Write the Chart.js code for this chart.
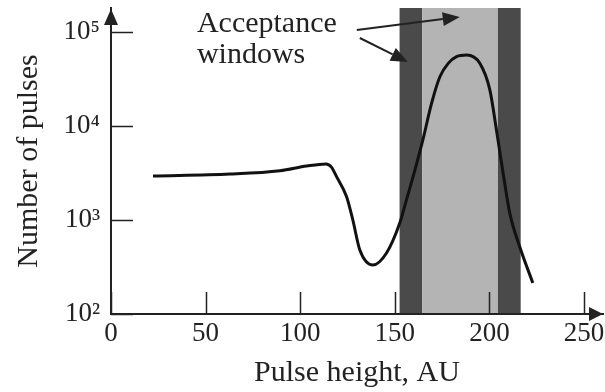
<!DOCTYPE html>
<html><head><meta charset="utf-8">
<script src="https://cdn.jsdelivr.net/npm/chart.js@4"></script>
<style>html,body{margin:0;padding:0;background:#fff}canvas{display:block}</style>
</head><body>
<canvas id="c" width="605" height="392"></canvas>
<script>
// ---- data ----
const pulseHeight = [22.2, 62.9, 89.3, 103.4, 113.6, 116.5, 119.2, 124.5, 127.8, 131.5, 138.4, 145.6, 152.6, 156.1, 160.6, 164.8, 169.4, 173.8, 178.2, 182.6, 187.9, 194.9, 200.2, 203.7, 207.2, 210.7, 216.0, 222.9];
const pulseCount  = [2940, 3080, 3340, 3750, 3950, 3650, 2890, 1770, 1000, 480, 332, 446, 929, 1630, 3400, 7100, 17400, 33400, 46400, 54600, 56900, 46500, 24200, 9060, 3160, 1190, 520, 214];
const xTickValues = [0, 50, 100, 150, 200, 250];
const yTickValues = [100, 1000, 10000, 100000];
const yTickLabels = ['10²', '10³', '10⁴', '10⁵'];
const windowEdges = [152.5, 164.5, 204.5, 216.5];
const windowShades = ['dark', 'light', 'dark'];
const annotationText = ['Acceptance', 'windows'];
const annotationTextX = [45.4, 45.4];
const annotationTextY = [100000, 46800];
const arrowFromX = [129.9, 131.5];
const arrowFromY = [105000, 86300];
const arrowToX = [184.3, 156.9];
const arrowToY = [144500, 48000];

const INK = '#222';
const SERIF = "'Liberation Serif', 'DejaVu Serif', serif";
const shadeColor = {dark: '#4a4a4a', light: '#b4b4b4'};

const bandsPlugin = {
  id: 'bands',
  beforeDraw(chart) {
    const {ctx, chartArea, scales: {x}} = chart;
    ctx.save();
    for (let i = 0; i < windowShades.length; i++) {
      const a = x.getPixelForValue(windowEdges[i]);
      const b = x.getPixelForValue(windowEdges[i + 1]);
      ctx.fillStyle = shadeColor[windowShades[i]];
      ctx.fillRect(a, chartArea.top, b - a, chartArea.bottom - chartArea.top);
    }
    ctx.restore();
  }
};

const decoPlugin = {
  id: 'deco',
  afterDraw(chart) {
    const {ctx, chartArea, scales: {x, y}} = chart;
    ctx.save();
    ctx.strokeStyle = INK;
    ctx.fillStyle = INK;
    ctx.lineWidth = 1.5;
    // inward tick marks
    const L = 22;
    xTickValues.forEach(v => {
      const px = Math.round(x.getPixelForValue(v)) + 0.5;
      ctx.beginPath(); ctx.moveTo(px, chartArea.bottom); ctx.lineTo(px, chartArea.bottom - L); ctx.stroke();
    });
    yTickValues.forEach(v => {
      const py = Math.round(y.getPixelForValue(v)) + 0.5;
      ctx.beginPath(); ctx.moveTo(chartArea.left, py); ctx.lineTo(chartArea.left + L, py); ctx.stroke();
    });
    // axis arrowheads
    const l = chartArea.left, b = chartArea.bottom;
    ctx.beginPath();
    ctx.moveTo(l, chartArea.top + 1); ctx.lineTo(l - 7, chartArea.top + 17); ctx.lineTo(l + 7, chartArea.top + 17); ctx.closePath(); ctx.fill();
    ctx.beginPath();
    ctx.moveTo(chartArea.right, b); ctx.lineTo(chartArea.right - 14, b - 7); ctx.lineTo(chartArea.right - 14, b + 7); ctx.closePath(); ctx.fill();
    // annotation text
    ctx.font = '30px ' + SERIF;
    ctx.textAlign = 'left';
    ctx.textBaseline = 'alphabetic';
    annotationText.forEach((t, i) => {
      ctx.fillText(t, x.getPixelForValue(annotationTextX[i]), y.getPixelForValue(annotationTextY[i]));
    });
    // annotation arrows
    ctx.lineWidth = 2;
    for (let i = 0; i < arrowFromX.length; i++) {
      const x0 = x.getPixelForValue(arrowFromX[i]), y0 = y.getPixelForValue(arrowFromY[i]);
      const x1 = x.getPixelForValue(arrowToX[i]), y1 = y.getPixelForValue(arrowToY[i]);
      const ang = Math.atan2(y1 - y0, x1 - x0);
      const hl = 17, hw = 7;
      const bx = x1 - hl * Math.cos(ang), by = y1 - hl * Math.sin(ang);
      ctx.beginPath(); ctx.moveTo(x0, y0); ctx.lineTo(bx, by); ctx.stroke();
      ctx.beginPath();
      ctx.moveTo(x1, y1);
      ctx.lineTo(bx + hw * Math.sin(ang), by - hw * Math.cos(ang));
      ctx.lineTo(bx - hw * Math.sin(ang), by + hw * Math.cos(ang));
      ctx.closePath(); ctx.fill();
    }
    ctx.restore();
  }
};

new Chart(document.getElementById('c'), {
  type: 'line',
  data: {
    datasets: [{
      data: pulseHeight.map((h, i) => ({x: h, y: pulseCount[i]})),
      borderColor: '#111',
      borderWidth: 3,
      pointRadius: 0,
      cubicInterpolationMode: 'monotone',
      fill: false
    }]
  },
  options: {
    responsive: false,
    devicePixelRatio: 1,
    animation: false,
    layout: {padding: {top: 8, right: 2, left: 0, bottom: 0}},
    plugins: {legend: {display: false}, tooltip: {enabled: false}},
    scales: {
      x: {
        type: 'linear', min: 0, max: 260,
        afterBuildTicks: s => { s.ticks = xTickValues.map(v => ({value: v})); },
        afterFit: s => { s.height = 78; s.paddingLeft = 0; s.paddingRight = 0; },
        grid: {display: false, drawTicks: false},
        border: {display: true, color: INK, width: 2},
        ticks: {font: {family: SERIF, size: 27}, color: INK, padding: 4, maxRotation: 0},
        title: {display: true, text: 'Pulse height, AU', font: {family: SERIF, size: 30}, color: INK, padding: {top: 0, bottom: 1}}
      },
      y: {
        type: 'logarithmic', min: 100, max: 180000,
        afterBuildTicks: s => { s.ticks = yTickValues.map(v => ({value: v, major: true})); },
        afterFit: s => { s.width = 111; s.paddingTop = 0; s.paddingBottom = 0; },
        grid: {display: false, drawTicks: false},
        border: {display: true, color: INK, width: 2},
        ticks: {font: {family: SERIF, size: 27}, color: INK, padding: 11,
          callback: v => { const i = yTickValues.indexOf(v); return i >= 0 ? yTickLabels[i] : ''; }},
        title: {display: true, text: 'Number of pulses', font: {family: SERIF, size: 30}, color: INK, padding: {top: 11, bottom: 0}}
      }
    }
  },
  plugins: [bandsPlugin, decoPlugin]
});
</script>
</body></html>
